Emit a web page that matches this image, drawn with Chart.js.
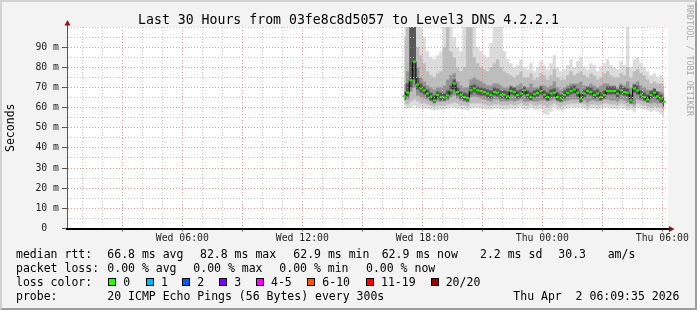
<!DOCTYPE html>
<html><head><meta charset="utf-8">
<script src="https://cdn.jsdelivr.net/npm/chart.js@4.4.1/dist/chart.umd.min.js"></script>
<style>
html,body{margin:0;padding:0;background:#f3f3f3;}
#wrap{position:relative;width:697px;height:310px;overflow:hidden;background:#f3f3f3;font-family:'DejaVu Sans Mono',monospace;color:#000;}
#c{position:absolute;left:0;top:0;}
.t{position:absolute;white-space:pre;line-height:1;}
.box{position:absolute;width:8px;height:8px;box-sizing:border-box;border:1px solid #000;}
#frame{position:absolute;left:0;top:0;width:697px;height:310px;box-sizing:border-box;border-style:solid;border-width:2px;border-color:#d2d2d2 #9d9d9d #9d9d9d #d2d2d2;pointer-events:none;}
</style></head>
<body>
<div id="wrap">
<canvas id="c" width="697" height="310"></canvas>
<div id="frame"></div>
</div>
<script>
// ---- data (hours since Wed 00:00, values in ms) ----
const startHour = 17.1;      // first 10-minute sample
const stepHour = 1 / 6;      // 10 minutes
const medianRtt = [65.8, 67.5, 73.6, 82.8, 71.5, 69.5, 68.6, 67.0, 65.5, 63.7,
 66.2, 65.3, 65.0, 66.0, 68.6, 72.0, 67.8, 66.2, 65.3, 64.8,
 68.6, 69.5, 68.6, 68.2, 67.8, 67.0, 66.2, 67.8, 67.4, 66.2,
 66.4, 65.6, 68.3, 67.8, 66.2, 67.0, 68.6, 66.2, 65.3, 66.6,
 67.2, 68.3, 66.4, 65.3, 67.0, 67.4, 65.3, 64.5, 66.2, 67.4,
 68.3, 69.0, 67.4, 64.5, 67.0, 68.3, 67.8, 66.2, 67.0, 65.3,
 66.2, 68.3, 68.3, 68.3, 67.0, 68.6, 67.8, 67.4, 63.7, 69.5,
 68.6, 66.4, 65.3, 64.0, 66.2, 67.4, 65.6, 64.5, 62.9];
const smokeMax = [102,102,102,102,102,102,95,88,85,84, 86,88,102,102,102,95,90,88,102,102,
 102,102,90,88,86,85,92,102,102,102, 88,84,
 82,80,81,84,80,79,82,78,80,83, 81,79,82,86,80,78,79,81,84,80,
 83,85,80,79,82,81,78,80,82,84, 81,80,79,83,81,102,80,84,85,82, 80,78,76,77,75,76,74];
const smokeHi2 = [95,102,102,102,90,86,82,78,76,75, 77,78,90,102,88,85,80,78,80,102,
 102,85,82,80,79,78,80,82,84,80, 78,77,
 76,75,76,78,75,75,77,74,75,77, 76,74,76,79,75,74,74,76,78,76,
 77,78,76,75,77,76,74,75,77,78, 76,75,75,77,76,80,75,78,79,77, 76,74,72,73,72,72,71];
const smokeHi3 = [72,78,102,102,80,75,73,71,70,69, 70,70,71,74,76,77,73,71,70,70,
 74,75,74,73,72,71,71,72,72,71, 70,70,
 71,70,71,72,70,70,72,70,70,71, 71,70,71,73,70,69,70,71,72,72,
 72,73,71,70,72,71,70,71,72,72, 71,71,70,72,71,73,70,72,73,71, 70,69,68,69,68,68,67];
const smokeHi4 = [68,72,100,100,75,72,70.5,69,67.5,66, 68,67.5,67,68.5,71,74,70,68,67.5,67,
 71,71.5,70.5,70,69.5,69,68.5,70,69.5,68.5, 68.5,68,70.5,70,68.5,69,70.5,68.5,67.5,68.5,
 69,70.5,68.5,67.5,69,69.5,67.5,66.5,68.5,69.5, 70.5,71,69.5,67,69,70.5,70,68.5,69,67.5,
 68.5,70.5,70.5,70.5,69,71,70,69.5,66.5,71.5, 71,68.5,67.5,66.5,68.5,69.5,68,66.5,65];
const smokeLo4 = [64,65.5,70,74,69,67.5,66.5,65,63.5,62.5, 64.5,63.5,63.5,64.5,66.5,69,66,64.5,63.5,63,
 66.5,67.5,66.5,66,66,65,64.5,66,65.5,64.5, 64.5,64,66.5,66,64.5,65,66.5,64.5,63.5,65,
 65.5,66.5,64.5,63.5,65,65.5,63.5,63,64.5,65.5, 66.5,67,65.5,62.5,65,66.5,66,64.5,65,63.5,
 64.5,66.5,66.5,66.5,65,66.5,66,65.5,62,67.5, 66.5,64.5,63.5,62.5,64.5,65.5,64,62.5,60.5];
const smokeLo3 = [63.5,64,68,70,66,65,64.5,64,63,62, 63,63,63,63.5,65,66,64.5,63.5,63,62.5,
 65,65.5,65,64.5,64,63.5,63,64,64,63, 63,63,
 63.5,63,63.5,64,63,63,64,63,63,63.5, 63.5,63,63.5,64,63,62.5,63,63.5,64,64,
 64,64.5,63.5,62.5,63.5,63.5,63,63.5,64,64, 63.5,63.5,63,64,63.5,62.5,63,61.5,64,63.5, 63,62.5,62,62.5,62,62,61];
const smokeLo2 = [61.5,61.5,63,64,63,62,62,61.5,61,60.5, 61,61,61,61.5,62,62.5,62,61,61,60.5,
 62,62,62,62,61.5,61,61,61.5,61.5,61, 61,61,
 61.5,61,61.5,62,61,61,62,61,61,61.5, 61,60,61,62,61,60.5,61,61.5,62,62,
 62,62,61.5,60.5,61.5,61.5,61,61.5,62,62, 61.5,61.5,61,62,61.5,60.5,61,60,62,61.5, 61,60.5,60,60.5,60,60,58.5];
const smokeMin = [59.5,59.5,60,61,60,60,59.5,59.5,59,58.5, 59,59,59,59.5,60,60,59.5,59,59,58.5,
 59.5,60,60,59.5,59.5,59,59,59.5,59.5,59, 59,59,
 59.5,59,59.5,60,59,59,60,59,59,59.5, 57,56.5,58,60,59,58.5,59,59.5,60,60,
 60,60,59.5,58.5,59.5,59.5,59,59.5,60,60, 59.5,59.5,59,60,59.5,58.5,59,58,60,59.5, 59,58.5,58,58.5,58,57,55];
const yTicks = {min: 0, max: 100, step: 5};
const xRange = {min: 0.235, max: 30.235};
const dayNames = ['Wed', 'Thu'];
const titleText = 'Last 30 Hours from 03fe8c8d5057 to Level3 DNS 4.2.2.1';
const legendLines = [
  {base: 259, items: [[16,'median rtt:'],[107.3,'66.8 ms avg'],[200,'82.8 ms max'],[293.3,'62.9 ms min'],[381.7,'62.9 ms now'],[480,'2.2 ms sd'],[558.3,'30.3'],[607.7,'am/s']]},
  {base: 272.8, items: [[16,'packet loss:'],[107.3,'0.00 % avg'],[193.3,'0.00 % max'],[279.3,'0.00 % min'],[366,'0.00 % now']]},
  {base: 286.6, items: [[16,'loss color:']]},
  {base: 300.4, items: [[16,'probe:'],[107.3,'20 ICMP Echo Pings (56 Bytes) every 300s'],[513.3,'Thu Apr  2 06:09:35 2026']]}
];
const lossLabels = ['0','1','2','3','4-5','6-10','11-19','20/20'];
const lossColors = ['#26ff00','#00b8ff','#0059ff','#7e00ff','#ff00ff','#ff5500','#ff0000','#a10000'];
const lossBoxX = [108, 145.5, 182, 219, 256, 307, 366, 431];
const lossTextX = [123.3, 161, 197.3, 234.3, 271, 322.3, 381, 445.7];

// ---- text overlay ----
const wrap = document.getElementById('wrap');
function put(text, x, base, size, style) {
  const d = document.createElement('div');
  d.className = 't';
  d.textContent = text;
  d.style.left = x + 'px';
  d.style.top = (base - 0.846 * size) + 'px';
  d.style.fontSize = size + 'px';
  if (style) Object.assign(d.style, style);
  wrap.appendChild(d);
  return d;
}
put(titleText, 0, 24, 13.2, {width: '697px', textAlign: 'center'});
legendLines.forEach(l => l.items.forEach(([x, s]) => put(s, x, l.base, 11.5)));
lossLabels.forEach((s, i) => {
  const b = document.createElement('div');
  b.className = 'box';
  b.style.left = lossBoxX[i] + 'px';
  b.style.top = '277.5px';
  b.style.background = lossColors[i];
  wrap.appendChild(b);
  put(s, lossTextX[i], 286.6, 11.5);
});
put('RRDTOOL / TOBI OETIKER', 694, 0, 8.4, {color: '#a8a8a8', transformOrigin: '0 0', transform: 'rotate(90deg)', top: '5px'});

// ---- chart ----
const times = medianRtt.map((_, i) => startHour + i * stepHour);
const pts = arr => arr.map((y, i) => ({x: times[i], y}));
function band(lo, hi, color, order) {
  return [
    {data: pts(lo), borderWidth: 0, pointRadius: 0, fill: false, stepped: 'middle', order},
    {data: pts(hi), borderWidth: 0, pointRadius: 0, fill: '-1', backgroundColor: color, stepped: 'middle', order}
  ];
}
const datasets = [
  ...band(smokeMin, smokeMax, '#dcdcdc', 10),
  ...band(smokeLo2, smokeHi2, '#bdbdbd', 9),
  ...band(smokeLo3, smokeHi3, '#939393', 8),
  ...band(smokeLo4, smokeHi4, '#585858', 7),
  {data: pts(medianRtt), borderColor: '#000', borderWidth: 1, stepped: 'middle', fill: false, order: 1,
   pointStyle: 'line', pointRadius: 1.7, pointBorderWidth: 2, pointBorderColor: '#22ee00', pointBackgroundColor: '#22ee00'}
];

const hourTicks = [];
for (let h = Math.ceil(xRange.min); h <= Math.floor(xRange.max); h++) hourTicks.push({value: h});

const plotBg = {
  id: 'plotBg',
  beforeDraw(chart) {
    const {ctx, chartArea: a} = chart;
    ctx.save(); ctx.fillStyle = '#fff';
    ctx.fillRect(a.left, a.top, a.right - a.left + 1, a.bottom - a.top);
    ctx.restore();
  },
  afterDraw(chart) {
    const {ctx, chartArea: a} = chart;
    const L = Math.round(a.left) + 0.5, B = Math.round(a.bottom);
    ctx.save();
    // y axis line (extends above the plot)
    ctx.strokeStyle = '#555'; ctx.lineWidth = 1;
    ctx.beginPath(); ctx.moveTo(L, B); ctx.lineTo(L, a.top - 3); ctx.stroke();
    // x axis line (extends right of the plot)
    ctx.strokeStyle = '#000'; ctx.lineWidth = 2;
    ctx.beginPath(); ctx.moveTo(L - 0.5, B); ctx.lineTo(a.right + 3, B); ctx.stroke();
    ctx.fillStyle = '#8f1414';
    ctx.beginPath(); ctx.moveTo(L - 3, a.top - 1.5); ctx.lineTo(L + 3, a.top - 1.5); ctx.lineTo(L, a.top - 7); ctx.closePath(); ctx.fill();
    ctx.beginPath(); ctx.moveTo(a.right + 2, B - 3); ctx.lineTo(a.right + 2, B + 3); ctx.lineTo(a.right + 7.5, B); ctx.closePath(); ctx.fill();
    ctx.restore();
  }
};

new Chart(document.getElementById('c'), {
  type: 'line',
  data: {datasets},
  plugins: [plotBg],
  options: {
    responsive: false, animation: false, events: [],
    layout: {padding: {left: 0, top: 27, right: 30, bottom: 0}},
    plugins: {legend: {display: false}, title: {display: false}, tooltip: {enabled: false}},
    scales: {
      x: {
        type: 'linear', min: xRange.min, max: xRange.max,
        afterFit: s => { s.height = 81.5; },
        afterBuildTicks: s => { s.ticks = hourTicks.map(t => ({value: t.value})); },
        ticks: {
          autoSkip: false, maxRotation: 0, padding: 1, color: '#222',
          font: {family: 'DejaVu Sans Mono', size: 9.8},
          callback: val => {
            const h = Math.round(val);
            if (h % 6 !== 0) return '';
            const hh = String(h % 24).padStart(2, '0');
            return dayNames[Math.floor(h / 24)] + ' ' + hh + ':00';
          }
        },
        grid: {
          z: 1, lineWidth: 1, tickLength: 3,
          color: c => (c.tick && Math.round(c.tick.value) % 3 === 0 ? 'rgba(240,110,110,0.75)' : 'rgba(190,190,190,0.9)'),
          tickColor: c => (c.tick && Math.round(c.tick.value) % 3 === 0 ? '#666' : 'rgba(0,0,0,0)')
        },
        border: {display: true, color: '#000', width: 2, dash: [1, 2], z: 2}
      },
      y: {
        type: 'linear', min: yTicks.min, max: yTicks.max,
        afterFit: s => { s.width = 67; },
        title: {display: true, text: 'Seconds', color: '#000', font: {family: 'DejaVu Sans Mono', size: 11.5}, padding: {top: 4, bottom: 0}},
        ticks: {
          stepSize: yTicks.step, autoSkip: false, padding: 3, color: '#222',
          font: {family: 'DejaVu Sans Mono', size: 9.8},
          callback: val => {
            if (val === 0) return '0  ';
            if (val % 10 === 0 && val < 100) return val + ' m';
            return '';
          }
        },
        grid: {
          z: 1, lineWidth: 1, tickLength: 5,
          color: c => {
            const v = c.tick ? c.tick.value : 0;
            if (v === 0) return 'rgba(0,0,0,0)';
            return (v % 10 === 0 && v < 100) ? 'rgba(240,110,110,0.75)' : 'rgba(190,190,190,0.9)';
          },
          tickColor: c => (c.tick && c.tick.value % 10 === 0 && c.tick.value < 100 ? '#555' : 'rgba(0,0,0,0)')
        },
        border: {display: true, color: '#555', width: 1, dash: [1, 2], z: 2}
      }
    }
  }
});
</script>
</body></html>
